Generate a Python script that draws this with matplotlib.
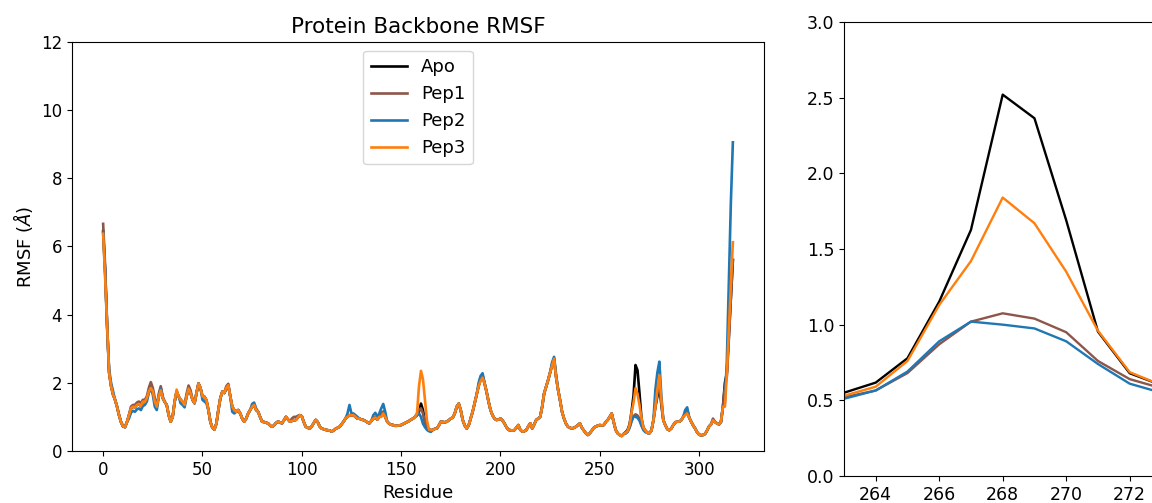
import matplotlib
matplotlib.use("Agg")
import matplotlib.pyplot as plt
import numpy as np

# Residue indices 0..317
residues = list(range(318))

# Apo backbone RMSF (Angstrom)
apo = [
    6.45, 5.3, 3.7, 2.3, 1.9, 1.65, 1.5, 1.3, 1.05, 0.85,          # 0-9
    0.72, 0.70, 0.85, 1.05, 1.25, 1.3, 1.28, 1.35, 1.38, 1.32,     # 10-19
    1.45, 1.44, 1.55, 1.75, 1.93, 1.75, 1.45, 1.30, 1.60, 1.83,    # 20-29
    1.55, 1.44, 1.35, 1.05, 0.86, 1.0, 1.45, 1.74, 1.6, 1.5,       # 30-39
    1.44, 1.35, 1.6, 1.83, 1.7, 1.5, 1.40, 1.7, 1.98, 1.85,        # 40-49
    1.6, 1.59, 1.49, 1.2, 0.85, 0.68, 0.63, 0.8, 1.2, 1.55,        # 50-59
    1.74, 1.7, 1.85, 1.93, 1.6, 1.3, 1.2, 1.15, 1.2, 1.1,          # 60-69
    0.95, 0.86, 0.95, 1.1, 1.2, 1.3, 1.35, 1.2, 1.15, 1.0,         # 70-79
    0.86, 0.85, 0.83, 0.81, 0.75, 0.71, 0.75, 0.82, 0.86, 0.84,    # 80-89
    0.81, 0.9, 1.0, 0.93, 0.86, 0.88, 0.9, 0.91, 0.98, 1.05,       # 90-99
    1.02, 0.85, 0.71, 0.68, 0.66, 0.72, 0.82, 0.91, 0.85, 0.72,    # 100-109
    0.66, 0.64, 0.62, 0.61, 0.6, 0.57, 0.6, 0.65, 0.68, 0.71,      # 110-119
    0.78, 0.86, 0.95, 1.0, 1.05, 1.05, 1.05, 1.0, 0.95, 0.95,      # 120-129
    0.92, 0.91, 0.88, 0.84, 0.81, 0.88, 0.95, 0.98, 0.92, 1.0,     # 130-139
    1.1, 1.15, 1.0, 0.86, 0.8, 0.77, 0.76, 0.74, 0.74, 0.75,       # 140-149
    0.76, 0.79, 0.82, 0.85, 0.88, 0.92, 0.95, 1.0, 1.05, 1.15,     # 150-159
    1.39, 1.2, 0.85, 0.7, 0.63, 0.61, 0.62, 0.65, 0.66, 0.75,      # 160-169
    0.86, 0.85, 0.84, 0.86, 0.9, 0.95, 0.98, 1.1, 1.3, 1.39,       # 170-179
    1.2, 0.91, 0.75, 0.66, 0.75, 0.95, 1.15, 1.4, 1.64, 1.9,       # 180-189
    2.12, 2.2, 1.98, 1.74, 1.45, 1.2, 1.05, 0.95, 0.91, 0.92,      # 190-199
    0.95, 0.9, 0.81, 0.7, 0.62, 0.61, 0.6, 0.61, 0.68, 0.76,       # 200-209
    0.62, 0.57, 0.58, 0.61, 0.72, 0.81, 0.66, 0.78, 0.91, 0.95,    # 210-219
    1.0, 1.3, 1.69, 1.88, 2.08, 2.3, 2.52, 2.7, 2.17, 1.8,         # 220-229
    1.49, 1.15, 0.95, 0.8, 0.71, 0.68, 0.66, 0.68, 0.71, 0.76,     # 230-239
    0.81, 0.68, 0.6, 0.52, 0.47, 0.52, 0.6, 0.68, 0.72, 0.74,      # 240-249
    0.76, 0.75, 0.76, 0.85, 0.91, 1.0, 1.1, 0.85, 0.62, 0.52,      # 250-259
    0.47, 0.44, 0.5, 0.55, 0.617, 0.778, 1.152, 1.626, 2.52, 2.364,  # 260-269
    1.69, 0.954, 0.679, 0.6, 0.53, 0.52, 0.6, 0.9, 1.3, 1.6,       # 270-279
    1.95, 1.35, 0.9, 0.76, 0.64, 0.61, 0.66, 0.76, 0.84, 0.86,     # 280-289
    0.86, 0.9, 1.0, 1.1, 1.2, 0.98, 0.86, 0.75, 0.66, 0.55,        # 290-299
    0.48, 0.46, 0.47, 0.5, 0.6, 0.72, 0.78, 0.9, 0.85, 0.81,       # 300-309
    0.78, 0.85, 1.3, 2.0, 2.3, 3.4, 4.5, 5.6,                      # 310-317
]

# Residues where the peptide-bound runs differ visibly from Apo
pep1_diff = {
    0: 6.66, 1: 5.4, 14: 1.3, 15: 1.35, 16: 1.35, 17: 1.42, 18: 1.45, 19: 1.4,
    20: 1.5, 21: 1.5, 22: 1.6, 23: 1.85, 24: 2.02, 25: 1.85, 26: 1.55, 28: 1.68,
    29: 1.9, 30: 1.6, 42: 1.68, 43: 1.92, 44: 1.78, 62: 1.9, 63: 1.97,
    95: 0.95, 96: 1.0, 97: 1.0, 98: 1.03, 158: 1.1, 159: 1.2, 160: 1.25, 161: 1.1,
    263: 0.52, 264: 0.565, 265: 0.68, 266: 0.87, 267: 1.02, 268: 1.075, 269: 1.04,
    270: 0.95, 271: 0.76, 272: 0.64, 273: 0.58, 279: 1.7, 280: 2.1, 281: 1.45,
    307: 0.95, 313: 1.9, 314: 2.2, 315: 3.3, 316: 4.5, 317: 5.6,
}
pep2_diff = {
    0: 6.4, 1: 5.2, 2: 3.6, 3: 2.4, 4: 2.0, 5: 1.75,
    13: 0.95, 14: 1.12, 15: 1.18, 16: 1.15, 17: 1.22, 18: 1.25, 19: 1.2,
    20: 1.32, 21: 1.35, 22: 1.45, 23: 1.7, 24: 1.85, 25: 1.65, 26: 1.3, 27: 1.2,
    39: 1.4, 40: 1.35, 41: 1.28, 50: 1.5, 51: 1.45, 52: 1.4, 62: 1.8, 63: 1.9,
    65: 1.15, 66: 1.1, 75: 1.38, 76: 1.42, 77: 1.25,
    123: 1.1, 124: 1.35, 125: 1.1, 126: 1.1, 127: 1.05, 128: 1.0,
    136: 1.05, 137: 1.12, 138: 1.0, 139: 1.1, 140: 1.25, 141: 1.38, 142: 1.15,
    157: 1.0, 158: 1.05, 159: 1.1, 160: 1.0, 161: 0.8, 162: 0.7, 163: 0.62,
    164: 0.58, 165: 0.56, 189: 2.0, 190: 2.2, 191: 2.28, 192: 2.0,
    226: 2.6, 227: 2.76, 228: 2.25,
    263: 0.51, 264: 0.565, 265: 0.69, 266: 0.89, 267: 1.02, 268: 1.0, 269: 0.975,
    270: 0.89, 271: 0.74, 272: 0.61, 273: 0.55, 278: 1.8, 279: 2.3, 280: 2.62,
    281: 1.6, 293: 1.2, 294: 1.28,
    313: 1.4, 314: 2.7, 315: 5.0, 316: 7.3, 317: 9.05,
}
pep3_diff = {
    0: 6.37, 1: 5.1, 24: 1.85, 29: 1.78, 37: 1.8, 140: 1.0, 141: 1.1,
    158: 1.1, 159: 1.9, 160: 2.35, 161: 2.1, 162: 1.5, 163: 0.9,
    190: 2.05, 191: 2.15, 226: 2.5, 227: 2.7,
    263: 0.53, 264: 0.59, 265: 0.76, 266: 1.13, 267: 1.42, 268: 1.84, 269: 1.67,
    270: 1.35, 271: 0.96, 272: 0.686, 273: 0.6, 279: 1.8, 280: 2.22, 281: 1.5,
    293: 1.05, 294: 1.1, 313: 1.3, 314: 2.3, 315: 3.6, 316: 4.9, 317: 6.12,
}

series_names = ["Apo", "Pep1", "Pep2", "Pep3"]
series_colors = ["black", "#8c564b", "#1f77b4", "#ff7f0e"]


def build(diff):
    vals = list(apo)
    for k, v in diff.items():
        vals[k] = v
    return vals


series = [apo, build(pep1_diff), build(pep2_diff), build(pep3_diff)]

fig = plt.figure(figsize=(11.52, 5.03), dpi=100)
ax = fig.add_axes([0.0622, 0.1034, 0.6013, 0.8137])
ax2 = fig.add_axes([0.7326, 0.0537, 0.2756, 0.9026])

for name, col, vals in zip(series_names, series_colors, series):
    ax.plot(residues, vals, color=col, lw=1.9, label=name)
    ax2.plot(residues, vals, color=col, lw=1.7)

ax.set_ylim(0, 12)
ax.set_yticks(range(0, 13, 2))
ax.set_xticks(range(0, 301, 50))
ax.set_title("Protein Backbone RMSF", fontsize=15.5)
ax.set_xlabel("Residue", fontsize=13)
ax.set_ylabel(r"RMSF ($\AA$)", fontsize=13)
ax.tick_params(labelsize=12)
ax.legend(loc="upper center", fontsize=13)

ax2.set_xlim(263, 273)
ax2.set_ylim(0, 3)
ax2.set_xticks(range(264, 273, 2))
ax2.set_yticks(np.arange(0, 3.01, 0.5))
ax2.tick_params(labelsize=12.5)

fig.savefig("out.png", dpi=100)
